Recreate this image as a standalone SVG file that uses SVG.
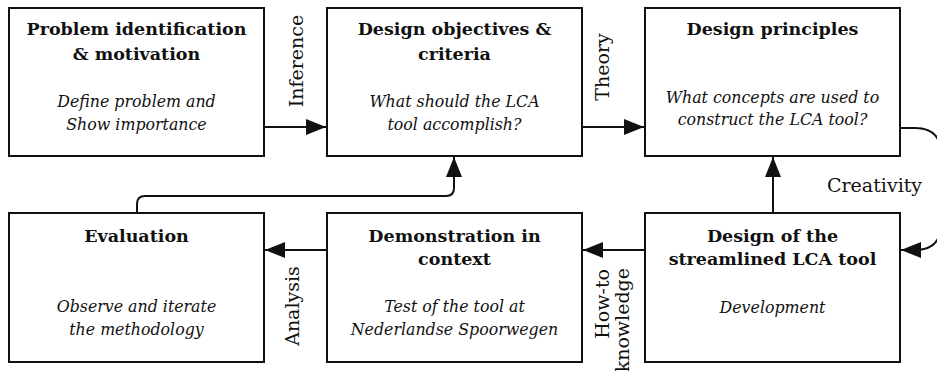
<svg xmlns="http://www.w3.org/2000/svg" width="937" height="371" viewBox="0 0 937 371">
  <style>
    .box { fill: #ffffff; stroke: #111111; stroke-width: 2; }
    .title { font-family: "DejaVu Serif", "Liberation Serif", serif; font-weight: bold; font-size: 17.5px; fill: #111111; text-anchor: middle; }
    .desc { font-family: "DejaVu Serif", "Liberation Serif", serif; font-style: italic; font-size: 15.8px; fill: #111111; text-anchor: middle; }
    .lbl { font-family: "DejaVu Serif", "Liberation Serif", serif; font-size: 19px; fill: #111111; }
    .conn { fill: none; stroke: #111111; stroke-width: 2; }
  </style>
  <defs>
    <marker id="arrow" markerUnits="userSpaceOnUse" markerWidth="21" markerHeight="16" refX="20" refY="8" orient="auto">
      <path d="M0,0 L20,8 L0,16 Z" fill="#111111"/>
    </marker>
  </defs>
  <rect width="937" height="371" fill="#ffffff"/>

  <!-- connectors -->
  <g id="connectors">
    <path class="conn" d="M264,127 H326" marker-end="url(#arrow)"/>
    <path class="conn" d="M582,127 H644" marker-end="url(#arrow)"/>
    <path class="conn" d="M900,128 H915 Q941,128 941,154 V224 Q941,250 915,250 H901" marker-end="url(#arrow)"/>
    <path class="conn" d="M773,213 V157" marker-end="url(#arrow)"/>
    <path class="conn" d="M645,250 H583" marker-end="url(#arrow)"/>
    <path class="conn" d="M327,250 H265" marker-end="url(#arrow)"/>
    <path class="conn" d="M137,213 V204 Q137,196 145,196 H446 Q454,196 454,188 V157" marker-end="url(#arrow)"/>
    <text class="lbl" text-anchor="middle" transform="translate(303,61) rotate(-90)">Inference</text>
    <text class="lbl" text-anchor="middle" transform="translate(609,67) rotate(-90)">Theory</text>
    <text class="lbl" text-anchor="start" x="827" y="192">Creativity</text>
    <text class="lbl" text-anchor="middle" transform="translate(299,306) rotate(-90)">Analysis</text>
    <text class="lbl" text-anchor="end" transform="translate(609,269) rotate(-90)">How-to</text>
    <text class="lbl" text-anchor="end" transform="translate(629,268) rotate(-90)">knowledge</text>
  </g>

  <g id="problem">
    <rect class="box" x="9" y="8" width="255" height="148"/>
    <text class="title" x="136.5" y="35">Problem identification</text>
    <text class="title" x="136.5" y="60">&amp; motivation</text>
    <text class="desc" x="136.5" y="107">Define problem and</text>
    <text class="desc" x="136.5" y="130">Show importance</text>
  </g>

  <g id="objectives">
    <rect class="box" x="327" y="8" width="255" height="148"/>
    <text class="title" x="454.5" y="35">Design objectives &amp;</text>
    <text class="title" x="454.5" y="60">criteria</text>
    <text class="desc" x="454.5" y="107">What should the LCA</text>
    <text class="desc" x="454.5" y="130">tool accomplish?</text>
  </g>

  <g id="principles">
    <rect class="box" x="645" y="8" width="255" height="148"/>
    <text class="title" x="772.5" y="35">Design principles</text>
    <text class="desc" x="772.5" y="103">What concepts are used to</text>
    <text class="desc" x="772.5" y="125">construct the LCA tool?</text>
  </g>

  <g id="evaluation">
    <rect class="box" x="9" y="213" width="255" height="149"/>
    <text class="title" x="136.5" y="242">Evaluation</text>
    <text class="desc" x="136.5" y="312">Observe and iterate</text>
    <text class="desc" x="136.5" y="335">the methodology</text>
  </g>

  <g id="demonstration">
    <rect class="box" x="327" y="213" width="255" height="149"/>
    <text class="title" x="454.5" y="242">Demonstration in</text>
    <text class="title" x="454.5" y="265">context</text>
    <text class="desc" x="454.5" y="312">Test of the tool  at</text>
    <text class="desc" x="454.5" y="335">Nederlandse Spoorwegen</text>
  </g>

  <g id="design">
    <rect class="box" x="645" y="213" width="255" height="149"/>
    <text class="title" x="772.5" y="242">Design of the</text>
    <text class="title" x="772.5" y="265">streamlined LCA tool</text>
    <text class="desc" x="772.5" y="313">Development</text>
  </g>
</svg>
